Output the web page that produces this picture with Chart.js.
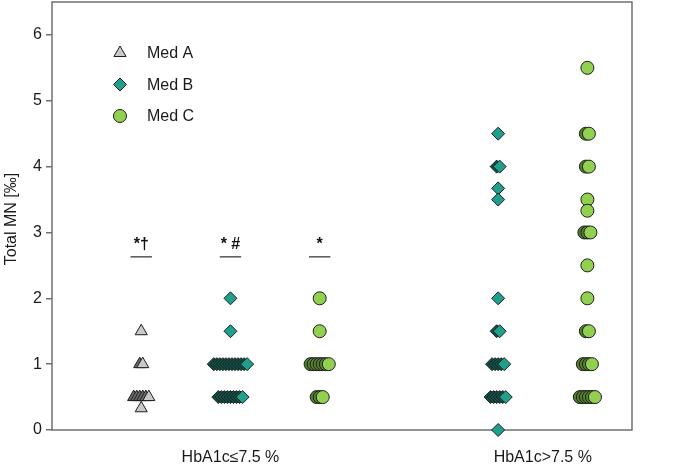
<!DOCTYPE html>
<html>
<head>
<meta charset="utf-8">
<script src="https://cdn.jsdelivr.net/npm/chart.js@4/dist/chart.umd.min.js"></script>
<style>
html, body { margin: 0; padding: 0; background: #fff; }
#wrap { width: 675px; height: 469px; }
</style>
</head>
<body>
<div id="wrap"><canvas id="chart"></canvas></div>
<script>
"use strict"

//Groups and series
const groupLabels = ["HbA1c≤7.5 %", "HbA1c>7.5 %"];
const seriesNames = ["Med A", "Med B", "Med C"];
const sigLabels = ["*†", "* #", "*"];
const yTicks = [0, 1, 2, 3, 4, 5, 6];

//Total MN values
const medALow = [1.5, 1, 1, 0.5, 0.5, 0.5, 0.5, 0.5, 0.5, 0.33];
const medBLow = [2, 1.5,
    1, 1, 1, 1, 1, 1, 1, 1, 1, 1, 1, 1,
    0.5, 0.5, 0.5, 0.5, 0.5, 0.5, 0.5, 0.5, 0.5];
const medCLow = [2, 1.5, 1, 1, 1, 1, 1, 1, 1, 0.5, 0.5, 0.5];
const medBHigh = [4.5, 4, 4, 3.67, 3.5, 2, 1.5, 1.5,
    1, 1, 1, 1, 1, 0.5, 0.5, 0.5, 0.5, 0.5, 0.5, 0];
const medCHigh = [5.5, 4.5, 4.5, 4, 4, 3.5, 3.33, 3, 3, 3, 2.5, 2, 1.5, 1.5,
    1, 1, 1, 1, 0.5, 0.5, 0.5, 0.5, 0.5, 0.5];

//Layout: x slot of every column, group label positions
const slotALow = 1, slotBLow = 2, slotCLow = 3, slotBHigh = 5, slotCHigh = 6;
const groupPos = [2, 5.5];
const jitterStep = 0.034;
const areaTop = 2;
const font = "'Liberation Sans', Arial, sans-serif";

const edge = "#1e1e1e";

//Spread equal values sideways so they don't hide each other
function spread(values, slot) {
    const rows = new Map();
    values.forEach(v => {
        if(!rows.has(v)) rows.set(v, 0);
        rows.set(v, rows.get(v) + 1);
    });
    const pts = [];
    rows.forEach((n, v) => {
        for(let i = 0; i < n; i++) {
            pts.push({ x: slot + (i - (n - 1) / 2) * jitterStep, y: v, top: i === n - 1 });
        }
    });
    return pts;
}

const styles = [
    { pointStyle: "triangle", radius: 7, fill: "#c9c9c9", shade: "#6a6a6a" },
    { pointStyle: "rectRot", radius: 6.5, fill: "#1ea08c", shade: "#0f5247" },
    { pointStyle: "circle", radius: 6.5, fill: "#92d050", shade: "#55802e" }
];

function dataset(i, points) {
    return {
        label: seriesNames[i],
        data: points,
        pointStyle: styles[i].pointStyle,
        pointRadius: styles[i].radius,
        pointHoverRadius: styles[i].radius,
        backgroundColor: c => (c.raw && !c.raw.top) ? styles[i].shade : styles[i].fill,
        borderColor: edge,
        borderWidth: 1,
        clip: false
    };
}

//Pull the plot area up to the top edge
const areaPlugin = {
    id: "area",
    afterLayout(chart) {
        const ys = chart.scales.y;
        ys.top = areaTop;
        ys.height = ys.bottom - areaTop;
        ys.configure();
        chart.chartArea.top = areaTop;
        chart.chartArea.height = chart.chartArea.bottom - areaTop;
    }
};

//Box around the plot area
const framePlugin = {
    id: "frame",
    beforeDatasetsDraw(chart) {
        const { ctx, chartArea: a } = chart;
        ctx.save();
        ctx.strokeStyle = "#707070";
        ctx.lineWidth = 1.5;
        ctx.strokeRect(a.left, a.top, a.right - a.left, a.bottom - a.top);
        ctx.restore();
    }
};

//Legend drawn inside the plot, top left
const legendPlugin = {
    id: "innerLegend",
    afterDatasetsDraw(chart) {
        const { ctx, chartArea: a } = chart;
        ctx.save();
        for(let i = 0; i < seriesNames.length; i++) {
            const y = a.top + 51 + i * 31.5;
            ctx.fillStyle = styles[i].fill;
            ctx.strokeStyle = edge;
            ctx.lineWidth = 1;
            Chart.helpers.drawPoint(ctx, {
                pointStyle: styles[i].pointStyle,
                radius: styles[i].radius,
                rotation: 0,
                borderWidth: 1
            }, a.left + 68, y);
            ctx.fillStyle = "#1a1a1a";
            ctx.font = "16px " + font;
            ctx.textAlign = "left";
            ctx.textBaseline = "middle";
            ctx.fillText(seriesNames[i], a.left + 95, y + 1);
        }
        ctx.restore();
    }
};

//Significance marks above the low HbA1c columns
const sigPlugin = {
    id: "sig",
    afterDatasetsDraw(chart) {
        const { ctx } = chart;
        const xs = chart.scales.x, ys = chart.scales.y;
        const slots = [slotALow, slotBLow, slotCLow];
        ctx.save();
        slots.forEach((s, i) => {
            const cx = xs.getPixelForValue(s);
            ctx.fillStyle = "#111";
            ctx.font = "bold 16px " + font;
            ctx.textAlign = "center";
            ctx.textBaseline = "middle";
            ctx.fillText(sigLabels[i], cx, ys.getPixelForValue(2.82));
            ctx.strokeStyle = "#555";
            ctx.lineWidth = 1.5;
            ctx.beginPath();
            const ly = ys.getPixelForValue(2.63);
            ctx.moveTo(xs.getPixelForValue(s - 0.12), ly);
            ctx.lineTo(xs.getPixelForValue(s + 0.12), ly);
            ctx.stroke();
        });
        ctx.restore();
    }
};

//Y axis title
const yTitlePlugin = {
    id: "yTitle",
    afterDraw(chart) {
        const { ctx } = chart;
        ctx.save();
        ctx.translate(12, 219);
        ctx.rotate(-Math.PI / 2);
        ctx.fillStyle = "#1a1a1a";
        ctx.font = "16px " + font;
        ctx.textAlign = "center";
        ctx.textBaseline = "middle";
        ctx.fillText("Total MN [‰]", 0, 0);
        ctx.restore();
    }
};

new Chart(document.getElementById("chart"), {
    type: "scatter",
    data: {
        datasets: [
            dataset(0, spread(medALow, slotALow)),
            dataset(1, spread(medBLow, slotBLow).concat(spread(medBHigh, slotBHigh))),
            dataset(2, spread(medCLow, slotCLow).concat(spread(medCHigh, slotCHigh)))
        ]
    },
    options: {
        responsive: true,
        maintainAspectRatio: false,
        animation: false,
        layout: { padding: { top: 2, right: 43, left: 0, bottom: 0 } },
        plugins: {
            legend: { display: false },
            tooltip: { enabled: false }
        },
        scales: {
            x: {
                type: "linear",
                min: 0,
                max: 6.5,
                afterBuildTicks: scale => {
                    scale.ticks = groupPos.map(v => ({ value: v }));
                },
                afterFit: scale => {
                    scale.height = 39;
                    scale.paddingLeft = 0;
                    scale.paddingRight = 0;
                },
                grid: { display: false },
                border: { display: false },
                ticks: {
                    autoSkip: false,
                    maxRotation: 0,
                    padding: 10,
                    color: "#1a1a1a",
                    font: { family: font, size: 16 },
                    callback: v => groupLabels[groupPos.indexOf(v)]
                }
            },
            y: {
                min: 0,
                max: 6.5,
                afterBuildTicks: scale => {
                    scale.ticks = yTicks.map(v => ({ value: v }));
                },
                afterFit: scale => {
                    scale.width = 52;
                    scale.paddingTop = 0;
                    scale.paddingBottom = 0;
                },
                grid: {
                    drawOnChartArea: false,
                    tickLength: 6,
                    color: "#707070",
                    lineWidth: 1.5
                },
                border: { display: false },
                ticks: {
                    padding: 4,
                    color: "#1a1a1a",
                    font: { family: font, size: 16 }
                }
            }
        }
    },
    plugins: [areaPlugin, framePlugin, legendPlugin, sigPlugin, yTitlePlugin]
});
</script>
</body>
</html>
